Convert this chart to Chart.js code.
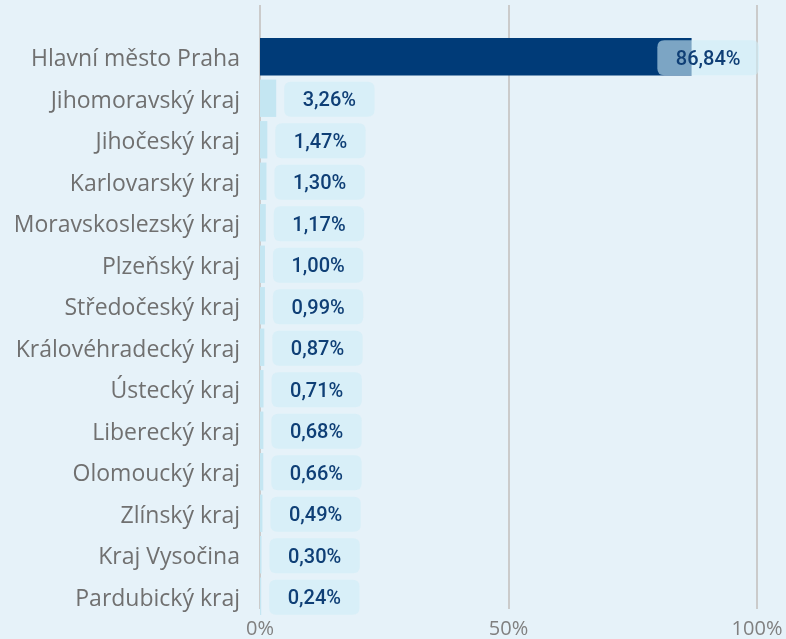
<!DOCTYPE html>
<html>
<head>
<meta charset="utf-8">
<script src="https://cdn.jsdelivr.net/npm/chart.js@4/dist/chart.umd.min.js"></script>
<style>
  body { margin: 0; background: #e6f2f9; }
  .wrap { width: 786px; height: 639px; position: relative; }
</style>
</head>
<body>
<div class="wrap"><canvas id="myChart"></canvas></div>
<script>
const regions = [
    "Hlavní město Praha", "Jihomoravský kraj", "Jihočeský kraj", "Karlovarský kraj",
    "Moravskoslezský kraj", "Plzeňský kraj", "Středočeský kraj", "Královéhradecký kraj",
    "Ústecký kraj", "Liberecký kraj", "Olomoucký kraj", "Zlínský kraj",
    "Kraj Vysočina", "Pardubický kraj"
];
const shares = [86.84, 3.26, 1.47, 1.30, 1.17, 1.00, 0.99, 0.87, 0.71, 0.68, 0.66, 0.49, 0.30, 0.24];
const xTicks = [0, 50, 100];

const darkBlue = "#003b78";
const lightBlue = "#c4e6f2";
const barColors = shares.map((v, i) => i === 0 ? darkBlue : lightBlue);

const formatShare = (v) => v.toFixed(2).replace(".", ",") + "%";

// grid lines run a bit higher/lower than the plot area
const gridPlugin = {
    id: "gridLines",
    beforeDatasetsDraw(chart) {
        const ctx = chart.ctx;
        const xScale = chart.scales.x;
        ctx.save();
        ctx.strokeStyle = "#cbcbcb";
        ctx.lineWidth = 2;
        xTicks.forEach((t) => {
            const px = Math.round(xScale.getPixelForValue(t));
            ctx.beginPath();
            ctx.moveTo(px, 5);
            ctx.lineTo(px, 609);
            ctx.stroke();
        });
        ctx.restore();
    }
};

const roundBox = (ctx, x, y, w, h, r) => {
    ctx.beginPath();
    ctx.moveTo(x + r, y);
    ctx.lineTo(x + w - r, y);
    ctx.quadraticCurveTo(x + w, y, x + w, y + r);
    ctx.lineTo(x + w, y + h - r);
    ctx.quadraticCurveTo(x + w, y + h, x + w - r, y + h);
    ctx.lineTo(x + r, y + h);
    ctx.quadraticCurveTo(x, y + h, x, y + h - r);
    ctx.lineTo(x, y + r);
    ctx.quadraticCurveTo(x, y, x + r, y);
    ctx.closePath();
};

const valueLabels = {
    id: "valueLabels",
    afterDatasetsDraw(chart) {
        const ctx = chart.ctx;
        const area = chart.chartArea;
        const meta = chart.getDatasetMeta(0);
        ctx.save();
        ctx.font = "500 20px Roboto, sans-serif";
        ctx.textAlign = "center";
        ctx.textBaseline = "middle";
        meta.data.forEach((bar, i) => {
            const text = formatShare(shares[i]);
            const tw = ctx.measureText(text).width;
            const w = tw + 37;
            const h = 35;
            let bx = bar.x + 8;
            if (bx + w > area.right + 2) bx = area.right + 2 - w;
            const by = bar.y - h / 2 + 1;
            roundBox(ctx, bx, by, w, h, 7);
            ctx.fillStyle = "rgba(207, 237, 246, 0.6)";
            ctx.fill();
            ctx.fillStyle = "#0f3f76";
            ctx.fillText(text, bx + w / 2, bar.y + 3);
        });
        ctx.restore();
    }
};

const noPadding = (scale) => {
    scale.paddingTop = 0;
    scale.paddingBottom = 0;
    scale.paddingLeft = 0;
    scale.paddingRight = 0;
};

const ctx = document.getElementById("myChart").getContext("2d");
const myChart = new Chart(ctx, {
    type: "bar",
    data: {
        labels: regions,
        datasets: [{
            data: shares,
            backgroundColor: barColors,
            borderWidth: 0,
            barPercentage: 0.9,
            categoryPercentage: 1
        }]
    },
    options: {
        indexAxis: "y",
        responsive: true,
        maintainAspectRatio: false,
        animation: false,
        layout: { padding: { top: 36, right: 29, left: 0, bottom: 0 } },
        plugins: {
            legend: { display: false },
            tooltip: { enabled: false }
        },
        scales: {
            x: {
                min: 0,
                max: 100,
                afterBuildTicks: (scale) => { scale.ticks = xTicks.map((v) => ({ value: v })); },
                afterFit: (scale) => { scale.height = 22; noPadding(scale); },
                grid: { display: false, drawTicks: false },
                border: { display: false },
                ticks: {
                    padding: 0,
                    color: "#808080",
                    font: { family: "'Open Sans'", size: 20 },
                    callback: (v) => v + "%"
                }
            },
            y: {
                afterFit: (scale) => { scale.width = 260; noPadding(scale); },
                grid: { display: false, drawTicks: false },
                border: { display: false },
                ticks: {
                    padding: 20,
                    labelOffset: 3,
                    color: "#707070",
                    font: { family: "'Open Sans'", size: 23 }
                }
            }
        }
    },
    plugins: [gridPlugin, valueLabels]
});
</script>
</body>
</html>
